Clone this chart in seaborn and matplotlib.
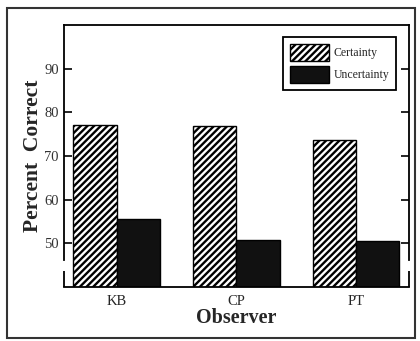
import matplotlib
matplotlib.use("Agg")
import matplotlib.pyplot as plt
import matplotlib.patches as mpatches
import matplotlib.transforms as mtransforms
import pandas as pd
import seaborn as sns

# Data
observers = ["KB", "CP", "PT"]
certainty = [77.0, 76.8, 73.6]
uncertainty = [55.7, 50.8, 50.6]
conditions = ["Certainty", "Uncertainty"]

df = pd.DataFrame({
    "Observer": observers * 2,
    "Condition": [conditions[0]] * 3 + [conditions[1]] * 3,
    "Percent": certainty + uncertainty,
})

sns.set_style("ticks")
plt.rcParams["font.family"] = ["Liberation Serif", "DejaVu Serif"]
plt.rcParams["hatch.linewidth"] = 1.7

fig = plt.figure(figsize=(4.2, 3.41), dpi=100)
ax = fig.add_axes([0.152, 0.158, 0.822, 0.769])

sns.barplot(
    data=df, x="Observer", y="Percent", hue="Condition",
    order=observers, hue_order=conditions,
    palette=["white", "#111111"], width=0.72,
    edgecolor="black", linewidth=1.0, ax=ax, legend=False,
)

for patch in ax.patches[:3]:
    patch.set_hatch("/////")
    patch.set_facecolor("white")

ax.set_xlim(-0.44, 2.44)
ax.set_ylim(40, 100)
ax.set_yticks([50, 60, 70, 80, 90])
ax.tick_params(axis="y", direction="in", length=6, width=1.2, labelsize=10.5,
               right=True, colors="black", labelcolor="#333333")
ax.tick_params(axis="x", length=0, labelsize=10.5, pad=6)

for side in ["left", "right", "top", "bottom"]:
    ax.spines[side].set_linewidth(1.3)
    ax.spines[side].set_color("black")
# axis break near the bottom
ax.spines["left"].set_bounds(46.1, 100)
ax.spines["right"].set_bounds(46.1, 100)
trans = mtransforms.blended_transform_factory(ax.transAxes, ax.transData)
for xx in [0, 1]:
    ax.plot([xx, xx], [40, 43.8], color="black", lw=1.3, transform=trans,
            clip_on=False, solid_capstyle="butt")

ax.set_xlabel("Observer", fontsize=14.5, fontweight="bold", labelpad=0)
ax.set_ylabel("Percent  Correct", fontsize=15.5, fontweight="bold", labelpad=1)

handles = [
    mpatches.Patch(facecolor="white", edgecolor="black", hatch="/////", label=conditions[0]),
    mpatches.Patch(facecolor="#111111", edgecolor="black", label=conditions[1]),
]
leg = ax.legend(handles=handles, loc="upper right", bbox_to_anchor=(0.98, 0.977),
                fontsize=8.5, frameon=True, fancybox=False, edgecolor="black",
                handlelength=3.3, handleheight=1.9, borderpad=0.6, labelspacing=0.35,
                handletextpad=0.4)
leg.get_frame().set_linewidth(1.3)
leg.get_frame().set_alpha(1)

# outer frame around the figure
fig.patches.append(mpatches.Rectangle((0.016, 0.008), 0.972, 0.97, transform=fig.transFigure,
                                      fill=False, edgecolor="#333333", linewidth=1.5))

fig.savefig("out.png", dpi=100)
